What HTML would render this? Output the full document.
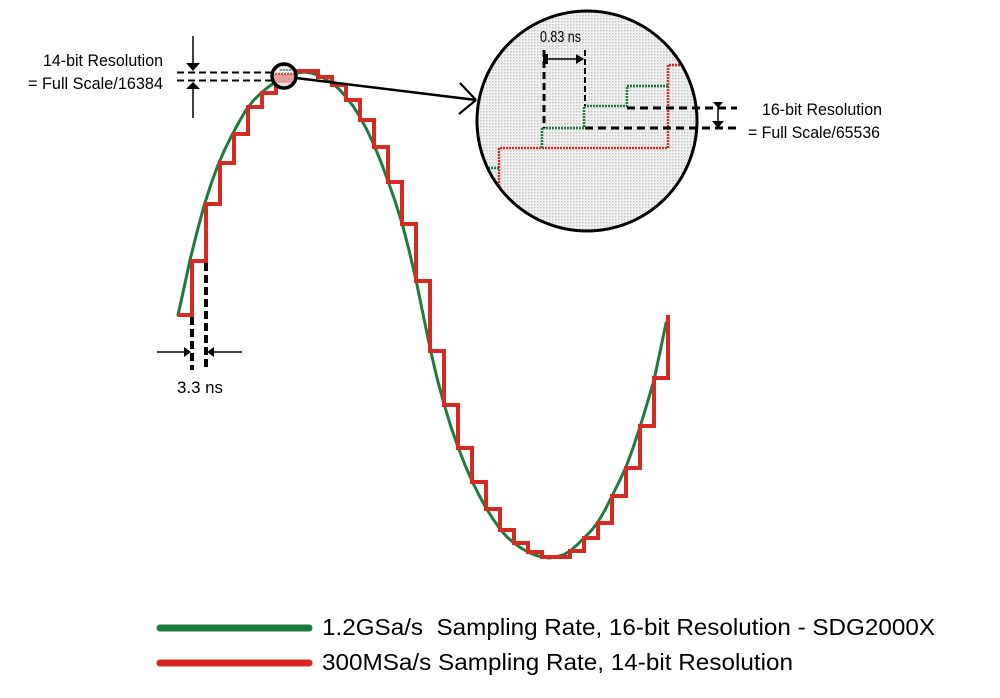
<!DOCTYPE html>
<html>
<head>
<meta charset="utf-8">
<style>
  html, body { margin: 0; padding: 0; background: #ffffff; }
  svg { display: block; }
  text { font-family: "Liberation Sans", Arial, sans-serif; fill: #000; white-space: pre; }
</style>
</head>
<body>
<svg width="1000" height="698" viewBox="0 0 1000 698" xmlns="http://www.w3.org/2000/svg">
  <defs>
    <pattern id="dots" width="3" height="3" patternUnits="userSpaceOnUse">
      <rect width="3" height="3" fill="#f2f2f2"/>
      <rect width="1.5" height="1.5" fill="#c6c6c6"/>
    </pattern>
    <clipPath id="bigclip"><circle cx="587" cy="121" r="109"/></clipPath>
    <clipPath id="smallclip"><circle cx="284" cy="76" r="11"/></clipPath>
  </defs>

  <rect width="1000" height="698" fill="#ffffff"/>

  <!-- green smooth curve -->
  <polyline fill="none" stroke="#1f7a3e" stroke-width="3" stroke-linejoin="round" stroke-linecap="round"
    points="178,315 184,288 190,260 197,232 204,206 211,184 218,165 225,149 232,135 239,122 246,110 253,101 260,94 267,88 274,83 282,78 290,75 297,73 304,72 311,73 318,75 325,79 332,83 339,89 346,97 353,106 360,117 367,130 374,145 381,162 388,181 395,201 402,223 409,250 416,280 423,314 430,348 437,378 444,404 451,427 458,447 465,465 472,481 479,495 486,508 493,519 500,529 507,537 514,543 521,548 528,552 535,555 542,557 549,558 556,557 563,555 570,551 577,545 584,538 591,531 598,522 605,510 612,496 619,482 626,467 633,448 640,427 647,404 654,380 660,352 666,323"/>

  <!-- red staircase -->
  <path fill="none" stroke="#d62a22" stroke-width="4" stroke-linejoin="miter"
    d="M178,315 H192 V261 H206 V204 H220 V163 H234 V134 H248 V107 H262 V93 H276 V83 H290 V71 H318 V77 H332 V85 H346 V100 H360 V120 H374 V147 H388 V182 H402 V224 H416 V281 H430 V351 H444 V405 H458 V448 H472 V482 H486 V509 H500 V530 H514 V543 H528 V552 H542 V557 H570 V551 H584 V538 H598 V523 H612 V496 H626 V468 H640 V426 H654 V378 H668 V315"/>

  <!-- 14-bit annotation -->
  <text x="43" y="66" font-size="17" textLength="120" lengthAdjust="spacingAndGlyphs">14-bit Resolution</text>
  <text x="28" y="89" font-size="17" textLength="135" lengthAdjust="spacingAndGlyphs">= Full Scale/16384</text>
  <line x1="177" y1="72.5" x2="272" y2="72.5" stroke="#000" stroke-width="2" stroke-dasharray="7 4"/>
  <line x1="177" y1="80.5" x2="272" y2="80.5" stroke="#000" stroke-width="2" stroke-dasharray="7 4"/>
  <line x1="193" y1="36" x2="193" y2="64" stroke="#000" stroke-width="1.5"/>
  <polygon points="186,63 200,63 193,71" fill="#000"/>
  <polygon points="186,89 200,89 193,82" fill="#000"/>
  <line x1="193" y1="88" x2="193" y2="118" stroke="#000" stroke-width="1.5"/>

  <!-- small circle -->
  <circle cx="284" cy="76" r="12" fill="url(#dots)"/>
  <g clip-path="url(#smallclip)">
    <rect x="274" y="74" width="20" height="9" fill="#e88a8a" opacity="0.8"/>
    <line x1="272" y1="74" x2="296" y2="74" stroke="#d62a22" stroke-width="1.5" stroke-dasharray="2 1"/>
    <line x1="280" y1="70" x2="292" y2="70" stroke="#1f7a3e" stroke-width="1.2" stroke-dasharray="2 1"/>
  </g>
  <circle cx="284" cy="76" r="12" fill="none" stroke="#000" stroke-width="3.5"/>

  <!-- pointer line and arrow -->
  <line x1="296" y1="78" x2="476" y2="100" stroke="#000" stroke-width="2.5"/>
  <line x1="476" y1="100" x2="460" y2="83" stroke="#000" stroke-width="2.2"/>
  <line x1="476" y1="100" x2="459" y2="114" stroke="#000" stroke-width="2.2"/>

  <!-- big magnifier circle -->
  <circle cx="587" cy="121" r="110" fill="url(#dots)"/>
  <g clip-path="url(#bigclip)">
    <polyline points="499,210 499,148 668,148 668,65 700,65" fill="none" stroke="#d62a22" stroke-width="2.5" stroke-dasharray="2 1"/>
    <polyline points="470,168 499,168" fill="none" stroke="#1f7a3e" stroke-width="2.5" stroke-dasharray="2 1"/>
    <polyline points="542,148 542,128 584,128 584,106 627,106 627,86 668,86" fill="none" stroke="#1f7a3e" stroke-width="2.5" stroke-dasharray="2 1"/>
  </g>
  <circle cx="587" cy="121" r="110" fill="none" stroke="#000" stroke-width="3"/>

  <!-- 0.83 ns annotation -->
  <line x1="544" y1="50" x2="544" y2="128" stroke="#000" stroke-width="3" stroke-dasharray="7 4"/>
  <line x1="585" y1="50" x2="585" y2="106" stroke="#000" stroke-width="2" stroke-dasharray="6 3"/>
  <line x1="546" y1="59" x2="578" y2="59" stroke="#000" stroke-width="1.5"/>
  <polygon points="576,54 576,64 584,59" fill="#000"/>
  <rect x="543" y="54" width="5" height="10" fill="#000"/>
  <text x="540" y="42" font-size="16" textLength="41" lengthAdjust="spacingAndGlyphs">0.83 ns</text>

  <!-- 16-bit annotation -->
  <line x1="627" y1="108" x2="737" y2="108" stroke="#000" stroke-width="3" stroke-dasharray="8 5"/>
  <line x1="585" y1="128" x2="738" y2="128" stroke="#000" stroke-width="3" stroke-dasharray="8 5"/>
  <polygon points="713,102 723,102 718,108" fill="#000"/>
  <line x1="718" y1="108" x2="718" y2="122" stroke="#000" stroke-width="1.5"/>
  <polygon points="712,121 724,121 718,128" fill="#000"/>
  <text x="762" y="115" font-size="17" textLength="120" lengthAdjust="spacingAndGlyphs">16-bit Resolution</text>
  <text x="748" y="138" font-size="17" textLength="132" lengthAdjust="spacingAndGlyphs">= Full Scale/65536</text>

  <!-- 3.3 ns annotation -->
  <line x1="192" y1="317" x2="192" y2="370" stroke="#000" stroke-width="4" stroke-dasharray="8 4"/>
  <line x1="206" y1="263" x2="206" y2="370" stroke="#000" stroke-width="4" stroke-dasharray="8 4"/>
  <line x1="157" y1="352" x2="186" y2="352" stroke="#000" stroke-width="1.5"/>
  <polygon points="184,347 184,357 191,352" fill="#000"/>
  <line x1="242" y1="352" x2="212" y2="352" stroke="#000" stroke-width="1.5"/>
  <polygon points="214,347 214,357 207,352" fill="#000"/>
  <text x="177" y="393" font-size="17" textLength="46" lengthAdjust="spacingAndGlyphs">3.3 ns</text>

  <!-- legend -->
  <line x1="160" y1="628" x2="309" y2="628" stroke="#1f7a3e" stroke-width="7" stroke-linecap="round"/>
  <line x1="160" y1="663" x2="309" y2="663" stroke="#d8251f" stroke-width="7" stroke-linecap="round"/>
  <text x="322" y="635" font-size="23" textLength="613" lengthAdjust="spacingAndGlyphs">1.2GSa/s  Sampling Rate, 16-bit Resolution - SDG2000X</text>
  <text x="322" y="670" font-size="23" textLength="471" lengthAdjust="spacingAndGlyphs">300MSa/s Sampling Rate, 14-bit Resolution</text>
</svg>
</body>
</html>
